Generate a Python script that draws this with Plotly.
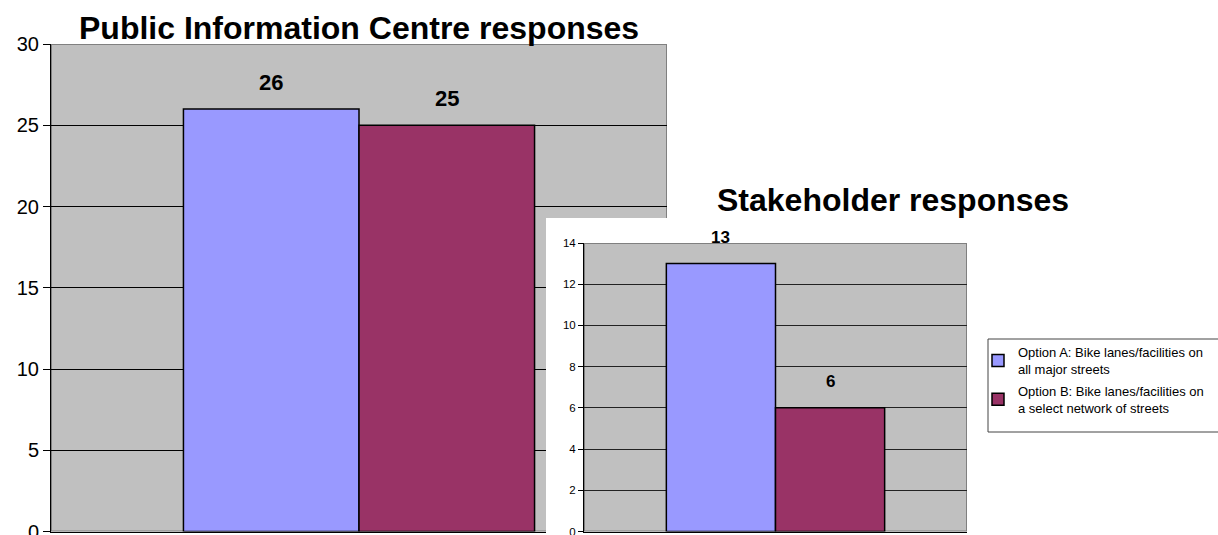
import plotly.graph_objects as go

# ---- data ----
series_names = [
    "Option A: Bike lanes/facilities on<br>all major streets",
    "Option B: Bike lanes/facilities on<br>a select network of streets",
]
series_colors = ["#9999FF", "#993366"]
category = [""]
pic_values = [26, 25]          # Public Information Centre responses
stake_values = [13, 6]         # Stakeholder responses
pic_title = "Public Information Centre responses"
stake_title = "Stakeholder responses"
pic_range = [0, 30]
stake_range = [0, 14]

FONT = "Arial, Liberation Sans, sans-serif"
W, H = 1218, 535
BARGAP = 0.43


def px_x(p):
    return p / W


def px_y(p):
    return (H - p) / H


fig = go.Figure()

# left chart bars
for name, col, v in zip(series_names, series_colors, pic_values):
    fig.add_trace(go.Bar(
        x=category, y=[v], name=name, xaxis="x", yaxis="y",
        marker=dict(color=col, line=dict(color="black", width=1.5)),
        legendgroup=name, showlegend=True, hoverinfo="y",
    ))

# white panel (second chart area) — dummy subplot
fig.add_trace(go.Scatter(x=[], y=[], xaxis="x2", yaxis="y2",
                         showlegend=False, hoverinfo="skip"))

# right chart bars
for name, col, v in zip(series_names, series_colors, stake_values):
    fig.add_trace(go.Bar(
        x=category, y=[v], name=name, xaxis="x3", yaxis="y3",
        marker=dict(color=col, line=dict(color="black", width=1.5)),
        legendgroup=name, showlegend=False, hoverinfo="y",
    ))

left_dom_x = [px_x(51), px_x(667)]
left_dom_y = [px_y(531.5), px_y(44)]
right_dom_x = [px_x(584), px_x(967)]
right_dom_y = [px_y(531.5), px_y(243)]
panel_dom_x = [px_x(546), 1.0]
panel_dom_y = [0.0, px_y(218)]

fig.update_layout(
    width=W, height=H,
    margin=dict(l=0, r=0, t=0, b=0, autoexpand=False),
    paper_bgcolor="white", plot_bgcolor="white",
    barmode="group", bargap=BARGAP, bargroupgap=0,
    font=dict(family=FONT, color="black"),
    showlegend=True,
    legend=dict(
        x=px_x(978), y=px_y(337), xanchor="left", yanchor="top",
        bgcolor="rgba(0,0,0,0)", borderwidth=0,
        font=dict(family=FONT, size=13, color="black"),
        tracegroupgap=2, itemwidth=30,
    ),
    xaxis=dict(domain=left_dom_x, anchor="y", type="category", range=[-0.5, 0.5],
               showticklabels=False, ticks="", showline=True, linecolor="black",
               linewidth=1, showgrid=False, zeroline=False, fixedrange=True),
    yaxis=dict(domain=left_dom_y, anchor="x", range=pic_range, dtick=5,
               ticks="outside", ticklen=7, tickcolor="black", tickwidth=1,
               showline=True, linecolor="black", linewidth=1,
               showgrid=True, gridcolor="black", gridwidth=1, zeroline=False,
               ticklabeloverflow="allow",
               tickfont=dict(family=FONT, size=20, color="black"), fixedrange=True),
    xaxis2=dict(domain=panel_dom_x, anchor="y2", visible=False, range=[0, 1], fixedrange=True),
    yaxis2=dict(domain=panel_dom_y, anchor="x2", visible=False, range=[0, 1], fixedrange=True),
    xaxis3=dict(domain=right_dom_x, anchor="y3", type="category", range=[-0.5, 0.5],
                showticklabels=False, ticks="", showline=True, linecolor="black",
                linewidth=1, showgrid=False, zeroline=False, fixedrange=True),
    yaxis3=dict(domain=right_dom_y, anchor="x3", range=stake_range, dtick=2,
                ticks="outside", ticklen=5, tickcolor="black", tickwidth=1,
                showline=True, linecolor="black", linewidth=1,
                showgrid=True, gridcolor="#222222", gridwidth=1, zeroline=False,
                ticklabeloverflow="allow",
                tickfont=dict(family=FONT, size=11.5, color="black"), fixedrange=True),
)

# plot-area backgrounds (grey with grey border), drawn under gridlines
fig.add_shape(type="rect", xref="x", yref="y", x0=-0.5, x1=0.5,
              y0=pic_range[0], y1=pic_range[1], layer="below",
              fillcolor="#C0C0C0", line=dict(color="#808080", width=2))
fig.add_shape(type="rect", xref="x3", yref="y3", x0=-0.5, x1=0.5,
              y0=stake_range[0], y1=stake_range[1], layer="below",
              fillcolor="#C0C0C0", line=dict(color="#808080", width=2))

# legend frame
fig.add_shape(type="rect", xref="paper", yref="paper",
              x0=px_x(988), x1=1.01, y0=px_y(432), y1=px_y(339), layer="above",
              fillcolor="white", line=dict(color="#444444", width=1))

# value labels above bars
half = (1 - BARGAP) / 4
offsets = [-half, half]
for off, v in zip(offsets, pic_values):
    fig.add_annotation(x=off, y=v, xref="x", yref="y", text=f"<b>{v}</b>",
                       showarrow=False, yanchor="bottom", yshift=12,
                       font=dict(family=FONT, size=22, color="black"))
for off, v in zip(offsets, stake_values):
    fig.add_annotation(x=off, y=v, xref="x3", yref="y3", text=f"<b>{v}</b>",
                       showarrow=False, yanchor="bottom", yshift=15,
                       font=dict(family=FONT, size=17, color="black"))

# titles
fig.add_annotation(x=px_x(359), y=px_y(28), xref="paper", yref="paper",
                   text=f"<b>{pic_title}</b>", showarrow=False,
                   xanchor="center", yanchor="middle",
                   font=dict(family=FONT, size=32, color="black"))
fig.add_annotation(x=px_x(893), y=px_y(200), xref="paper", yref="paper",
                   text=f"<b>{stake_title}</b>", showarrow=False,
                   xanchor="center", yanchor="middle",
                   font=dict(family=FONT, size=32, color="black"))

fig.write_html("out.html", config={"displayModeBar": False},
               post_script="document.body.style.margin='0px';")
